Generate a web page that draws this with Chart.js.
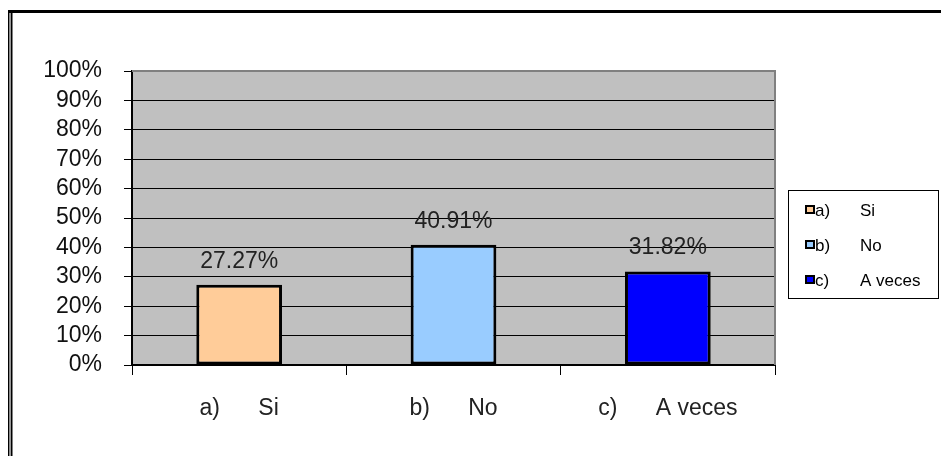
<!DOCTYPE html>
<html lang="es">
<head>
<meta charset="UTF-8">
<title>Encuesta</title>
<script src="https://cdn.jsdelivr.net/npm/chart.js"></script>
<style>
  body { margin: 0; background: #fff; }
  #wrap { width: 941px; height: 456px; }
</style>
</head>
<body>
<div id="wrap"><canvas id="chart" width="941" height="456"></canvas></div>
<script>
  const letters = ['a)', 'b)', 'c)'];
  const answers = ['Si', 'No', 'A veces'];
  const percents = [27.27, 40.91, 31.82];
  const barColors = ['#ffcc99', '#99ccff', '#0000ff'];
  const yMax = 100;
  const yStep = 10;

  const FONT = "'Liberation Sans', Arial, sans-serif";

  // white page, double frame on the left and top edge, grey plot area
  const backdrop = {
    id: 'backdrop',
    beforeDraw(chart) {
      const c = chart.ctx, a = chart.chartArea;
      c.save();
      c.fillStyle = '#fff';
      c.fillRect(0, 0, chart.width, chart.height);
      c.fillStyle = '#000';
      c.fillRect(8, 10, chart.width - 8, 3);
      c.fillRect(8, 10, 1.5, chart.height);
      c.fillStyle = '#999';
      c.fillRect(9.5, 13, 1.5, chart.height);
      c.fillStyle = '#000';
      c.fillRect(11, 13, 1.5, chart.height);
      c.fillStyle = '#c0c0c0';
      c.fillRect(a.left, a.top, a.right - a.left, a.bottom - a.top);
      c.restore();
    },
    beforeDatasetsDraw(chart) {
      const c = chart.ctx, a = chart.chartArea;
      c.save();
      c.strokeStyle = '#808080';
      c.lineWidth = 2;
      c.beginPath();
      c.moveTo(a.left, a.top);
      c.lineTo(a.right, a.top);
      c.lineTo(a.right, a.bottom);
      c.stroke();
      c.restore();
    }
  };

  // percentage written above each bar
  const barValues = {
    id: 'barValues',
    afterDatasetsDraw(chart) {
      const c = chart.ctx;
      const meta = chart.getDatasetMeta(0);
      c.save();
      c.font = '23px ' + FONT;
      c.fillStyle = '#222';
      c.textAlign = 'center';
      c.textBaseline = 'alphabetic';
      meta.data.forEach((bar, i) => {
        c.fillText(percents[i].toFixed(2) + '%', bar.x, bar.y - 17);
      });
      c.restore();
    }
  };

  // boxed legend on the right
  const sideLegend = {
    id: 'sideLegend',
    afterDraw(chart) {
      const c = chart.ctx;
      const rows = [210, 245, 280];
      c.save();
      c.strokeStyle = '#000';
      c.lineWidth = 1;
      c.strokeRect(788.5, 190.5, 150, 108);
      c.font = '17px ' + FONT;
      c.textBaseline = 'middle';
      rows.forEach((y, i) => {
        c.fillStyle = '#000';
        c.fillRect(805, y - 5, 10, 9);
        c.fillStyle = barColors[i];
        c.fillRect(807, y - 3, 6, 5);
        c.fillStyle = '#000';
        c.fillText(letters[i], 815, y + 1);
        c.fillText(answers[i], 860, y + 1);
      });
      c.restore();
    }
  };

  new Chart(document.getElementById('chart'), {
    type: 'bar',
    data: {
      labels: letters.map((l, i) => l + '      ' + answers[i]),
      datasets: [{
        data: percents,
        backgroundColor: barColors,
        borderColor: '#000',
        borderWidth: 3,
        borderSkipped: false,
        barPercentage: 0.4,
        categoryPercentage: 1
      }]
    },
    options: {
      responsive: false,
      animation: false,
      layout: { padding: { left: 0, top: 71, right: 166, bottom: 0 } },
      plugins: {
        legend: { display: false },
        tooltip: { enabled: false }
      },
      scales: {
        x: {
          afterFit(scale) { scale.height = 91; },
          grid: {
            offset: true,
            drawOnChartArea: false,
            drawTicks: true,
            tickLength: 10,
            color: '#000',
            lineWidth: 1
          },
          border: { display: true, color: '#000', width: 2 },
          ticks: {
            color: '#222',
            padding: 20,
            font: { family: FONT, size: 23 },
            maxRotation: 0
          }
        },
        y: {
          min: 0,
          max: yMax,
          afterFit(scale) { scale.width = 132; },
          grid: {
            color: ctx => (ctx.tick && ctx.tick.value === yMax ? '#808080' : '#000'),
            tickColor: '#000',
            lineWidth: 1,
            tickLength: 8
          },
          border: { display: true, color: '#000', width: 2 },
          ticks: {
            stepSize: yStep,
            autoSkip: false,
            color: '#111',
            padding: 22,
            font: { family: FONT, size: 23 },
            callback: v => v + '%'
          }
        }
      }
    },
    plugins: [backdrop, barValues, sideLegend]
  });
</script>
</body>
</html>
